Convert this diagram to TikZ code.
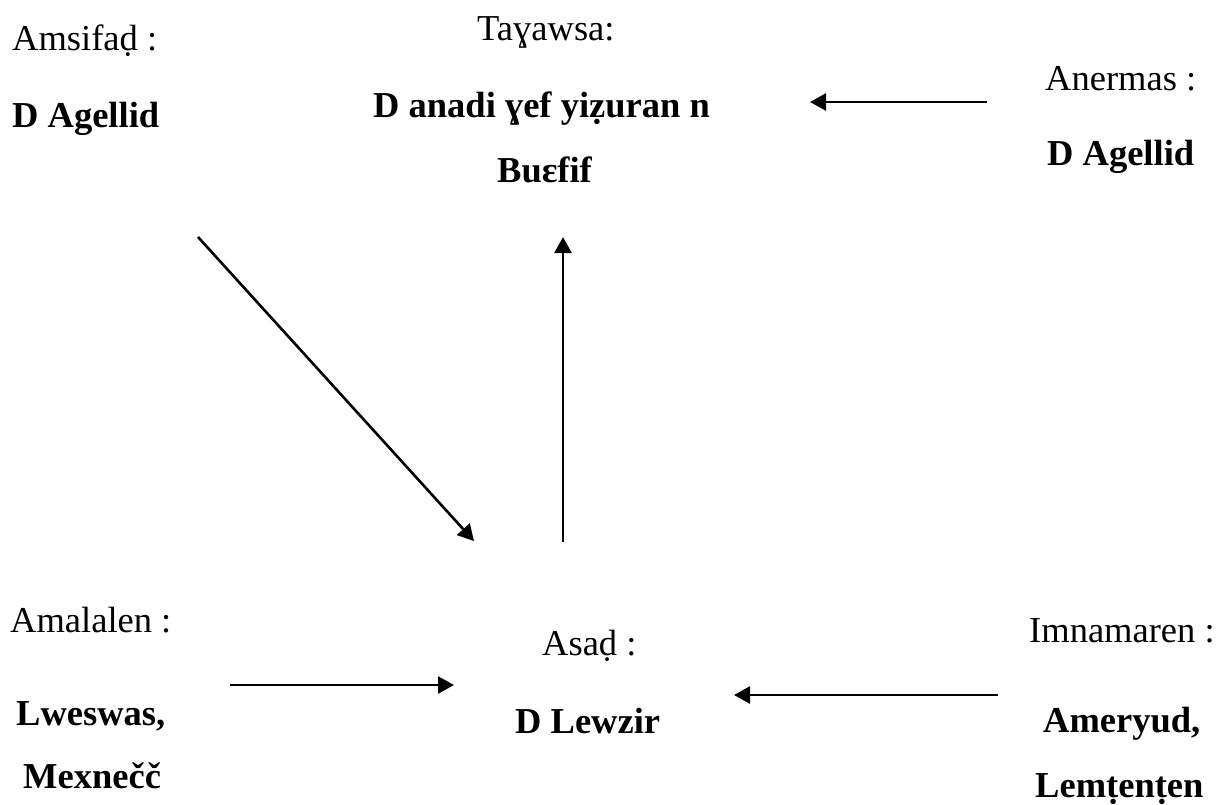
\documentclass[tikz,border=0pt]{standalone}
\usepackage{fontspec}
\setmainfont{Liberation Serif}[BoldFont={Liberation Serif Bold}]
\usetikzlibrary{arrows.meta}
\begin{document}
\begin{tikzpicture}[x=1pt,y=-1pt,
  lbl/.style={anchor=base west,inner sep=0pt,font=\fontsize{36.5}{44}\selectfont},
  val/.style={anchor=base west,inner sep=0pt,font=\fontsize{36.5}{44}\selectfont\bfseries},
  conn/.style={line width=2.6pt,-{Triangle[length=16pt,width=17pt]}}]
\useasboundingbox (0,0) rectangle (1224,804);
% top left
\node[lbl] (amsifad) at (12,50) {Amsifaḍ :};
\node[val] (agellid1) at (12,127) {D Agellid};
% top centre
\node[lbl] (tayawsa) at (477,40) {Taɣawsa:};
\node[val] (anadi) at (373,117) {D anadi ɣef yiẓuran n};
\node[val] (buefif) at (497,182) {Buɛfif};
% top right
\node[lbl] (anermas) at (1045,90) {Anermas :};
\node[val] (agellid2) at (1047,165) {D Agellid};
% bottom left
\node[lbl] (amalalen) at (10,632) {Amalalen :};
\node[val] (lweswas) at (16,725) {Lweswas,};
\node[val] (mexnecc) at (23,788) {Mexnečč};
% bottom centre
\node[lbl] (asad) at (542,655) {Asaḍ :};
\node[val] (lewzir) at (515,733) {D Lewzir};
% bottom right
\node[lbl] (imnamaren) at (1029,642) {Imnamaren :};
\node[val] (ameryud) at (1043,732) {Ameryud,};
\node[val] (lemtenten) at (1035,797) {Lemṭenṭen};
% connector ends
\coordinate (a1s) at (987,102);  \coordinate (a1e) at (810,102);
\coordinate (a2s) at (198,237);  \coordinate (a2e) at (474,541);
\coordinate (a3s) at (563,542);  \coordinate (a3e) at (563,237);
\coordinate (a4s) at (230,685);  \coordinate (a4e) at (454,685);
\coordinate (a5s) at (998,695);  \coordinate (a5e) at (734,695);
\draw[conn] (a1s) -- (a1e);
\draw[conn] (a2s) -- (a2e);
\draw[conn] (a3s) -- (a3e);
\draw[conn] (a4s) -- (a4e);
\draw[conn] (a5s) -- (a5e);
\end{tikzpicture}
\end{document}
